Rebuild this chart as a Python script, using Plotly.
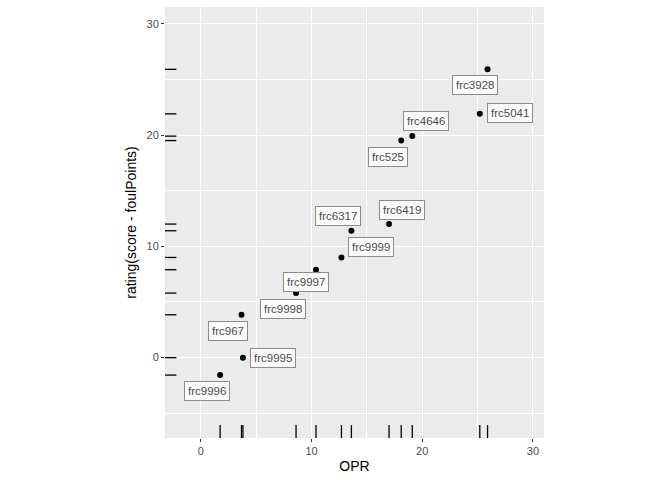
import plotly.graph_objects as go

# team ratings
teams = ['frc3928', 'frc5041', 'frc4646', 'frc525', 'frc6419', 'frc6317',
         'frc9999', 'frc9997', 'frc9998', 'frc967', 'frc9995', 'frc9996']
opr = [25.9, 25.2, 19.1, 18.1, 17.0, 13.6, 12.7, 10.4, 8.6, 3.67, 3.8, 1.74]
rating = [25.9, 21.9, 19.9, 19.5, 12.0, 11.4, 9.0, 7.9, 5.8, 3.85, 0.0, -1.57]

# pixel offsets of the repelled labels (x right, y up)
label_shift = {
    'frc3928': (-13, -16), 'frc5041': (30, 1), 'frc4646': (14, 15),
    'frc525': (-13, -16), 'frc6419': (13, 14), 'frc6317': (-13, 15),
    'frc9999': (30, 10), 'frc9997': (-10, -12), 'frc9998': (-13, -16),
    'frc967': (-13, -16), 'frc9995': (30, 0), 'frc9996': (-13, -16),
}

fig = go.Figure()
fig.add_trace(go.Scatter(
    x=opr, y=rating, mode='markers',
    marker=dict(color='black', size=6),
    hovertext=teams, showlegend=False
))

# rug marks on both axes
for xv in opr:
    fig.add_shape(type='line', xref='x', yref='y domain',
                  x0=xv, x1=xv, y0=0, y1=0.03,
                  line=dict(color='black', width=1.3))
for yv in rating:
    fig.add_shape(type='line', xref='x domain', yref='y',
                  x0=0, x1=0.03, y0=yv, y1=yv,
                  line=dict(color='black', width=1.3))

# labels
for t, xv, yv in zip(teams, opr, rating):
    dx, dy = label_shift[t]
    fig.add_annotation(
        x=xv, y=yv, text=t, showarrow=False,
        xshift=dx, yshift=dy,
        font=dict(size=11.5, color='#4d4d4d'),
        bgcolor='#fafafa', bordercolor='#8c8c8c', borderwidth=1, borderpad=3
    )

axis_common = dict(
    showgrid=True, gridcolor='white', gridwidth=1.1,
    zeroline=False, showline=False,
    ticks='outside', ticklen=3, tickcolor='#333333', tickwidth=1,
    tickfont=dict(size=11, color='#4d4d4d'),
    dtick=10, tick0=0,
    minor=dict(dtick=5, showgrid=True, gridcolor='white', gridwidth=0.5),
)

fig.update_layout(
    template='none',
    width=672, height=480,
    margin=dict(l=165, r=128, t=7, b=42),
    paper_bgcolor='white', plot_bgcolor='#ebebeb',
    font=dict(family='Liberation Sans, Arial, sans-serif', color='#4d4d4d'),
    xaxis=dict(axis_common, range=[-3.24, 31.0],
               title=dict(text='OPR', font=dict(size=14, color='black'),
                          standoff=4)),
    yaxis=dict(axis_common, range=[-7.22, 31.5],
               title=dict(text='rating(score - foulPoints)',
                          font=dict(size=14, color='black'), standoff=6)),
)

# drop the page's default body margin so the figure sits at the top-left
fig.write_html('out.html', config={'displayModeBar': False},
               post_script="document.body.style.margin='0px';")
